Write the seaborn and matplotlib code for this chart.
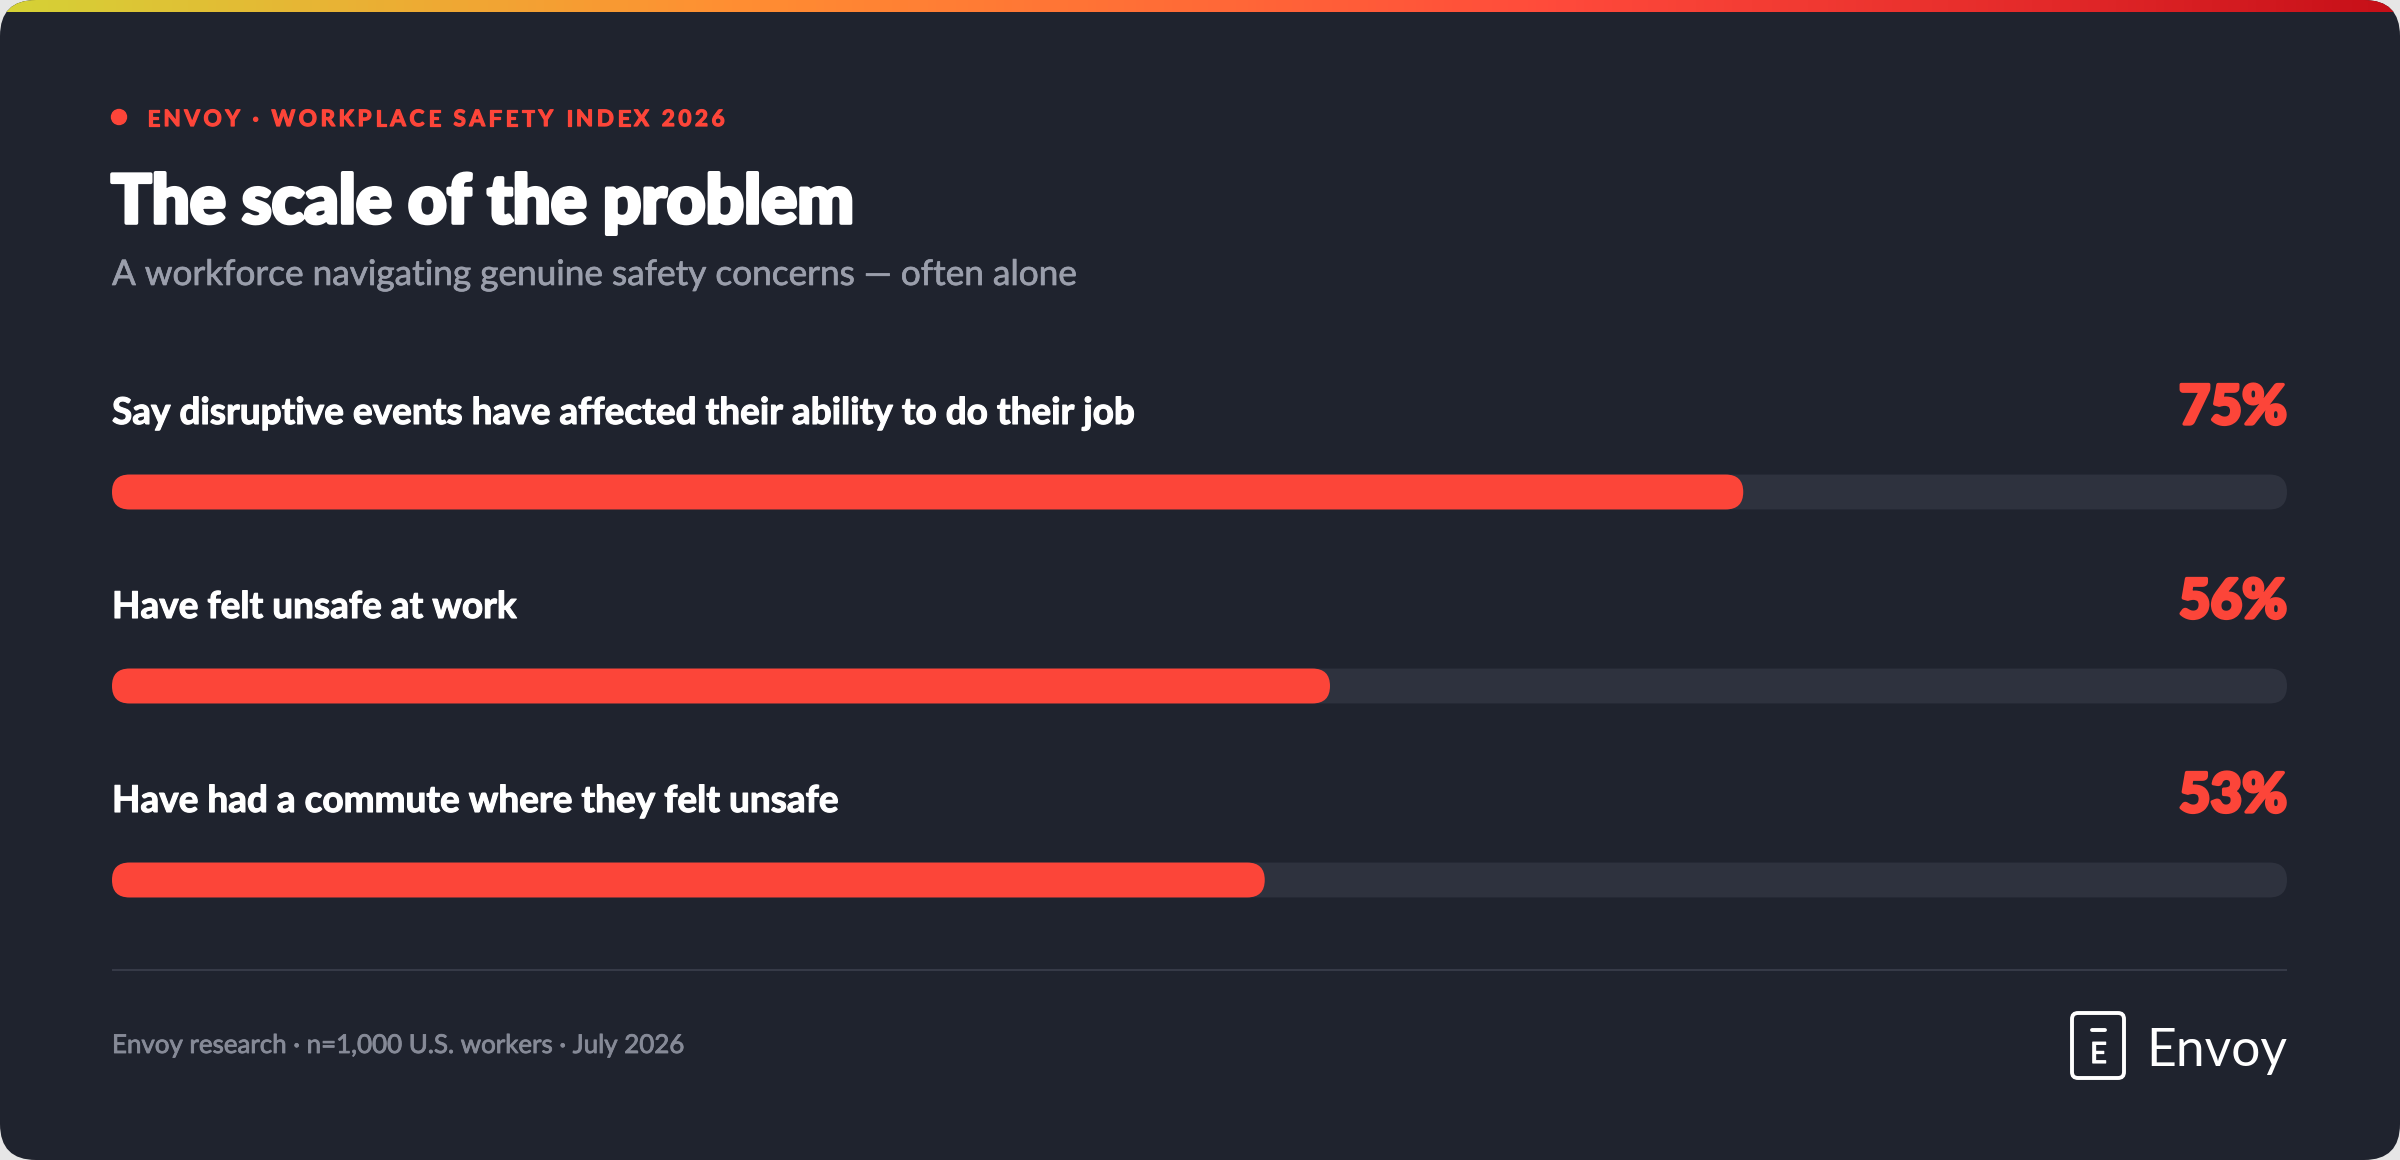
import numpy as np
import pandas as pd
import seaborn as sns
import matplotlib.pyplot as plt
import matplotlib.colors as mcolors
import matplotlib.patheffects as pe
from matplotlib.patches import FancyBboxPatch, Circle

# ---- data ----
categories = ["Say disruptive events have affected their ability to do their job",
              "Have felt unsafe at work",
              "Have had a commute where they felt unsafe"]
values = [75, 56, 53]
value_labels = ["75%", "56%", "53%"]

kicker = "ENVOY · WORKPLACE SAFETY INDEX 2026"
title = "The scale of the problem"
subtitle = "A workforce navigating genuine safety concerns — often alone"
footer = "Envoy research · n=1,000 U.S. workers · July 2026"
brand = "Envoy"

# ---- colours ----
BG = "#1f232e"
TRACK = "#2e323e"
RED = "#fc4539"
WHITE = "#ffffff"
SUB = "#9a9eab"
FOOT = "#868a97"
RULE = "#363a47"
OUTSIDE = "#e6e6e6"

W, H = 2400, 1160

sns.set_theme(style="dark")
plt.rcParams["font.family"] = ["Lato", "DejaVu Sans"]

fig = plt.figure(figsize=(24, 11.6), dpi=100)
fig.patch.set_facecolor(OUTSIDE)

# background axes in pixel units
bg = fig.add_axes([0, 0, 1, 1])
bg.axis("off")

card = FancyBboxPatch((0, 0), W, H, boxstyle="round,pad=0,rounding_size=36",
                      fc=BG, ec="none")
bg.add_patch(card)

grad_cmap = mcolors.LinearSegmentedColormap.from_list(
    "topbar", [(0.0, "#d5d236"), (0.3, "#ff8f32"), (0.5, "#ff6a37"),
               (0.65, "#ff4a3b"), (0.85, "#e42a2a"), (1.0, "#c60f18")])
strip = bg.imshow(np.linspace(0, 1, 600)[None, :], extent=(0, W, 12, 0),
                  aspect="auto", cmap=grad_cmap, zorder=2)
strip.set_clip_path(card)
bg.set_xlim(0, W)
bg.set_ylim(H, 0)

renderer = fig.canvas.get_renderer()


def text_width(s, size, ax=bg, **kw):
    t = ax.text(0, 0, s, fontsize=size, **kw)
    w = t.get_window_extent(renderer).width
    t.remove()
    return w


def fit(s, target, **kw):
    return 40 * target / text_width(s, 40, **kw)


def heavy(color, lw):
    return [pe.withStroke(linewidth=lw, foreground=color)]


# kicker with a red dot and letter spacing
bg.add_patch(Circle((119, 117), 7.5, color=RED, zorder=3))
kw_k = dict(fontweight="bold")
n40 = text_width(kicker, 40, **kw_k)
track_em = 0.16
ks = 578 / (n40 / 40 + (len(kicker) - 1) * track_em * 100 / 72)
gap = track_em * ks * 100 / 72
bar_w = text_width("|", ks, **kw_k)
x0 = 147
for i, ch in enumerate(kicker):
    off = text_width(kicker[:i] + "|", ks, **kw_k) - bar_w if i else 0
    bg.text(x0 + off + i * gap, 126, ch, fontsize=ks, color=RED,
            va="baseline", ha="left", path_effects=heavy(RED, 0.9), **kw_k)

# title and subtitle
bg.text(111, 223, title, fontsize=fit(title, 742, fontweight="black"),
        fontweight="black", color=WHITE, va="baseline",
        path_effects=heavy(WHITE, 2.6))
bg.text(112, 285, subtitle, fontsize=fit(subtitle, 964), color=SUB,
        va="baseline", path_effects=heavy(SUB, 0.5))

# ---- bars (seaborn) ----
df = pd.DataFrame({"label": categories, "value": values, "full": [100] * 3})
ax = fig.add_axes([112 / W, 1 - 977 / H, 2175 / W, 582 / H])
sns.barplot(data=df, x="full", y="label", color=TRACK, saturation=1,
            width=0.18, errorbar=None, ax=ax)
sns.barplot(data=df, x="value", y="label", color=RED, saturation=1,
            width=0.18, errorbar=None, ax=ax)
ax.set_xlim(0, 100)
ax.set_ylim(2.5, -0.5)
ax.axis("off")

# round the bar ends
px_x = 2175 / 100
px_y = 582 / 3
aspect = px_x / px_y
radius = 17.5 / px_x
for p in list(ax.patches):
    rb = FancyBboxPatch((p.get_x(), p.get_y()), p.get_width(), p.get_height(),
                        boxstyle=f"round,pad=0,rounding_size={radius}",
                        mutation_aspect=aspect, fc=p.get_facecolor(), ec="none")
    p.remove()
    ax.add_patch(rb)

lab_size = fit(categories[0], 1022, fontweight="bold")
pct_size = fit(value_labels[0], 108, fontweight="black")
base_off = 68 / px_y
for i, (cat, vl) in enumerate(zip(categories, value_labels)):
    ax.text(0, i - base_off, cat, fontsize=lab_size, fontweight="bold",
            color=WHITE, va="baseline", ha="left", clip_on=False,
            path_effects=heavy(WHITE, 0.8))
    ax.text(100, i - base_off, vl, fontsize=pct_size, fontweight="black",
            color=RED, va="baseline", ha="right", clip_on=False,
            path_effects=heavy(RED, 2.4))

# ---- footer ----
bg.plot([112, 2287], [970, 970], color=RULE, lw=1.5, solid_capstyle="butt")
bg.text(112, 1053, footer, fontsize=fit(footer, 572), color=FOOT,
        va="baseline", path_effects=heavy(FOOT, 0.6))

# logo
bg.add_patch(FancyBboxPatch((2072, 1013), 52, 65,
                            boxstyle="round,pad=0,rounding_size=6",
                            fc="none", ec=WHITE, lw=2.8))
bg.plot([2092, 2105], [1030, 1030], color=WHITE, lw=2.8, solid_capstyle="round")
bg.text(2098.5, 1063, "E", fontsize=21, color=WHITE, ha="center",
        va="baseline", fontweight="normal", path_effects=heavy(WHITE, 0.8))
bg.text(2287, 1066, brand, fontsize=fit(brand, 141),
        fontweight="normal", color=WHITE, ha="right", va="baseline")

fig.savefig("out.png", dpi=100, facecolor=fig.get_facecolor())
